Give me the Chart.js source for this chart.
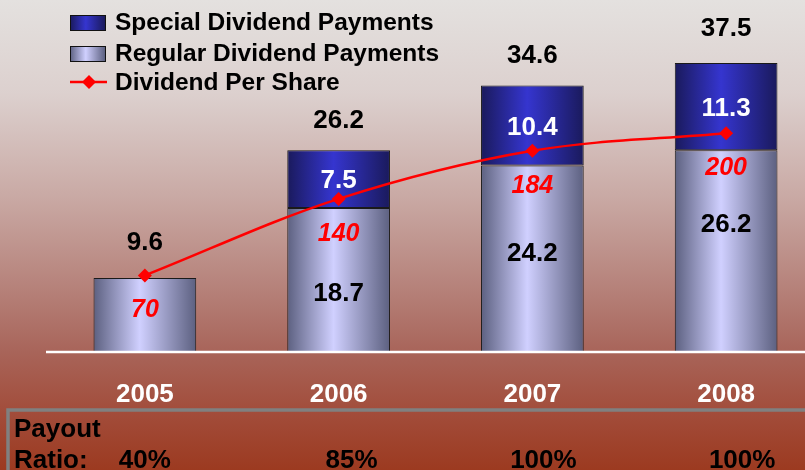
<!DOCTYPE html>
<html lang="en">
<head>
<meta charset="UTF-8">
<title>Dividend Payments</title>
<script src="https://cdn.jsdelivr.net/npm/chart.js"></script>
<style>
  html, body { margin: 0; padding: 0; overflow: hidden; }
  body {
    width: 805px; height: 470px;
    background: linear-gradient(to bottom, #e4e1df 0%, #dcd0ce 20%, #c9a9a4 42%, #b47e76 63%, #a86459 75%, #a24c3a 88%, #9c3a20 100%);
  }
  #wrap { position: absolute; left: 0; top: 0; width: 830px; height: 470px; }
</style>
</head>
<body>
<div id="wrap"><canvas id="divChart" width="830" height="470"></canvas></div>
<script>
const years = ['2005', '2006', '2007', '2008'];
const regular = [9.6, 18.7, 24.2, 26.2];
const special = [null, 7.5, 10.4, 11.3];
const totals = [9.6, 26.2, 34.6, 37.5];
const perShare = [70, 140, 184, 200];
const payoutRatio = ['40%', '85%', '100%', '100%'];

const BAR_PCT = 0.53;
const FONT = '"Liberation Sans", Arial, sans-serif';

// horizontal "cylinder" shading for each bar
function barFill(edge, mid) {
  return function (c) {
    const chart = c.chart, area = chart.chartArea, x = chart.scales.x;
    if (!area || !x || c.dataIndex === undefined) return mid;
    const cx = x.getPixelForValue(c.dataIndex);
    const half = (area.right - area.left) / years.length * BAR_PCT / 2;
    const g = chart.ctx.createLinearGradient(cx - half, 0, cx + half, 0);
    g.addColorStop(0, edge);
    g.addColorStop(0.45, mid);
    g.addColorStop(1, edge);
    return g;
  };
}

function legendBox(ctx, x, y, edge, mid) {
  const g = ctx.createLinearGradient(x, 0, x + 35, 0);
  g.addColorStop(0, edge); g.addColorStop(0.45, mid); g.addColorStop(1, edge);
  ctx.fillStyle = g;
  ctx.fillRect(x, y, 35, 15);
  ctx.strokeStyle = '#111';
  ctx.lineWidth = 1;
  ctx.strokeRect(x + 0.5, y + 0.5, 35, 15);
}

const extras = {
  id: 'extras',
  beforeDraw(chart) {
    const ctx = chart.ctx;
    ctx.save();
    ctx.strokeStyle = '#808080';
    ctx.lineWidth = 3.5;
    ctx.strokeRect(8, 410, 840, 80);
    ctx.restore();
  },
  afterDatasetsDraw(chart) {
    const ctx = chart.ctx, x = chart.scales.x, y = chart.scales.y, y2 = chart.scales.y2;
    const area = chart.chartArea;
    ctx.save();
    // baseline
    ctx.strokeStyle = '#ffffff';
    ctx.lineWidth = 2.5;
    ctx.beginPath();
    ctx.moveTo(46, y.getPixelForValue(0));
    ctx.lineTo(area.right + 10, y.getPixelForValue(0));
    ctx.stroke();

    ctx.textAlign = 'center';
    ctx.textBaseline = 'middle';
    const totalShift = [35, 29, 30, 34];
    const regShift = [0, 14, -5, -26];
    years.forEach((yr, i) => {
      const cx = x.getPixelForValue(i);
      const top = y.getPixelForValue(totals[i]);
      ctx.font = 'bold 26px ' + FONT;
      ctx.fillStyle = '#000';
      ctx.fillText(totals[i].toFixed(1), cx, top - totalShift[i]);
      if (special[i] !== null) {
        const a = y.getPixelForValue(regular[i]);
        const b = y.getPixelForValue(regular[i] + special[i]);
        ctx.fillStyle = '#fff';
        ctx.fillText(special[i].toFixed(1), cx, (a + b) / 2 + 2);
        ctx.fillStyle = '#000';
        const r0 = y.getPixelForValue(0);
        ctx.fillText(regular[i].toFixed(1), cx, (a + r0) / 2 + regShift[i]);
      }
      ctx.font = 'italic bold 25px ' + FONT;
      ctx.fillStyle = '#ff0000';
      ctx.fillText(String(perShare[i]), cx, y2.getPixelForValue(perShare[i]) + 35);
    });

    // category labels
    ctx.textBaseline = 'alphabetic';
    ctx.font = 'bold 26px ' + FONT;
    ctx.fillStyle = '#fff';
    years.forEach((yr, i) => ctx.fillText(yr, x.getPixelForValue(i), 402));

    // payout ratio row
    const ratioShift = [0, 13, 11, 16];
    ctx.fillStyle = '#000';
    payoutRatio.forEach((p, i) => ctx.fillText(p, x.getPixelForValue(i) + ratioShift[i], 468));
    ctx.textAlign = 'left';
    ctx.fillText('Payout', 14, 437);
    ctx.fillText('Ratio:', 14, 468);
    ctx.restore();
  },
  afterDraw(chart) {
    const ctx = chart.ctx;
    ctx.save();
    legendBox(ctx, 70, 15, '#1a1a5c', '#3535cf');
    legendBox(ctx, 70, 46, '#5c6080', '#d0d0ff');
    ctx.strokeStyle = '#ff0000';
    ctx.lineWidth = 2.5;
    ctx.beginPath(); ctx.moveTo(70, 82); ctx.lineTo(107, 82); ctx.stroke();
    ctx.fillStyle = '#ff0000';
    ctx.beginPath();
    ctx.moveTo(89, 75); ctx.lineTo(96, 82); ctx.lineTo(89, 89); ctx.lineTo(82, 82);
    ctx.closePath(); ctx.fill();
    ctx.fillStyle = '#000';
    ctx.font = 'bold 24.5px ' + FONT;
    ctx.textBaseline = 'middle';
    ctx.fillText('Special Dividend Payments', 115, 23);
    ctx.fillText('Regular Dividend Payments', 115, 54);
    ctx.fillText('Dividend Per Share', 115, 83);
    ctx.restore();
  }
};

new Chart(document.getElementById('divChart'), {
  data: {
    labels: years,
    datasets: [
      {
        type: 'line',
        label: 'Dividend Per Share',
        data: perShare,
        yAxisID: 'y2',
        borderColor: '#ff0000',
        backgroundColor: '#ff0000',
        borderWidth: 2.5,
        pointStyle: 'rectRot',
        pointRadius: 7,
        pointBorderWidth: 0,
        tension: 0.35,
        order: 0
      },
      {
        type: 'bar',
        label: 'Regular Dividend Payments',
        data: regular,
        backgroundColor: barFill('#5c6080', '#d0d0ff'),
        borderColor: '#1a1a1a',
        borderWidth: 1,
        borderSkipped: false,
        barPercentage: BAR_PCT,
        categoryPercentage: 1,
        order: 1
      },
      {
        type: 'bar',
        label: 'Special Dividend Payments',
        data: special,
        backgroundColor: barFill('#1a1a5c', '#3535cf'),
        borderColor: '#1a1a1a',
        borderWidth: 1,
        borderSkipped: false,
        barPercentage: BAR_PCT,
        categoryPercentage: 1,
        order: 2
      }
    ]
  },
  options: {
    responsive: false,
    animation: false,
    events: [],
    layout: { padding: { left: 48, right: 5, top: 13, bottom: 118 } },
    plugins: { legend: { display: false }, tooltip: { enabled: false } },
    scales: {
      x: { stacked: true, display: false, offset: true },
      y: { stacked: true, display: false, min: 0, max: 44 },
      y2: { display: false, min: 0, max: 310 }
    }
  },
  plugins: [extras]
});
</script>
</body>
</html>
